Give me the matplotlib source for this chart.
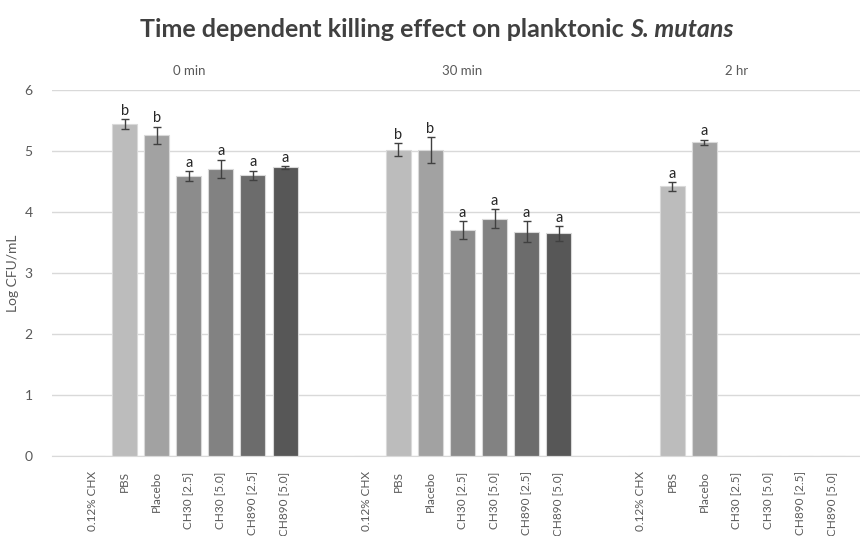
import numpy as np
import matplotlib.pyplot as plt

plt.rcParams['font.family'] = ['Lato', 'DejaVu Sans']

# data
treatments = ['0.12% CHX', 'PBS', 'Placebo', 'CH30 [2.5]', 'CH30 [5.0]',
              'CH890 [2.5]', 'CH890 [5.0]']
times = ['0 min', '30 min', '2 hr']

vals_0min = [np.nan, 5.44, 5.26, 4.59, 4.71, 4.60, 4.73]
err_0min = [np.nan, 0.08, 0.14, 0.08, 0.15, 0.08, 0.025]
sig_0min = ['', 'b', 'b', 'a', 'a', 'a', 'a']

vals_30min = [np.nan, 5.02, 5.02, 3.70, 3.89, 3.68, 3.65]
err_30min = [np.nan, 0.11, 0.21, 0.15, 0.16, 0.17, 0.125]
sig_30min = ['', 'b', 'b', 'a', 'a', 'a', 'a']

vals_2hr = [np.nan, 4.42, 5.14, np.nan, np.nan, np.nan, np.nan]
err_2hr = [np.nan, 0.07, 0.045, np.nan, np.nan, np.nan, np.nan]
sig_2hr = ['', 'a', 'a', '', '', '', '']

colors = ['#c8c8c8', '#bcbcbc', '#a2a2a2', '#8c8c8c', '#828282', '#6c6c6c', '#575757']

values = [vals_0min, vals_30min, vals_2hr]
errors = [err_0min, err_30min, err_2hr]
letters = [sig_0min, sig_30min, sig_2hr]

txt = '#595959'
stride = 8.54

fig = plt.figure(figsize=(8.6, 5.36), dpi=100)
ax = fig.add_axes([52 / 860, 80 / 536, 808 / 860, 366 / 536])

ticks, labels = [], []
for g, t in enumerate(times):
    x = g * stride + np.arange(len(treatments))
    v = np.array(values[g], dtype=float)
    e = np.array(errors[g], dtype=float)
    ax.bar(x, np.nan_to_num(v), width=0.78, color=colors,
           edgecolor='#d9d9d9', linewidth=0.8, zorder=2)
    ax.errorbar(x, v, yerr=e, fmt='none', ecolor='#404040',
                elinewidth=1, capsize=3, capthick=1, zorder=3)
    for xi, vi, ei, s in zip(x, v, e, letters[g]):
        if s:
            ax.text(xi, vi + ei + 0.02, s, ha='center', va='bottom',
                    fontsize=10.5, color='#262626')
    ax.text(x.mean(), 6.22, t, ha='center', va='bottom', fontsize=9.5, color=txt)
    ticks.extend(x)
    labels.extend(treatments)

ax.set_xlim(-1.27, 2 * stride + 6 + 0.86)
ax.set_ylim(0, 6)
ax.set_yticks(range(7))
ax.set_xticks(ticks)
ax.set_xticklabels(labels, rotation=90, fontsize=8.5, color=txt)
ax.tick_params(axis='y', labelsize=10, labelcolor=txt, length=0, pad=14)
ax.tick_params(axis='x', length=0, pad=11)
ax.yaxis.grid(True, color='#d9d9d9', linewidth=1, zorder=0)
ax.set_axisbelow(True)
for s in ['top', 'right', 'left']:
    ax.spines[s].set_visible(False)
ax.spines['bottom'].set_color('#d9d9d9')
ax.set_ylabel('Log CFU/mL', fontsize=10, color=txt, labelpad=4)

t1 = fig.text(140 / 860, 0.945, 'Time dependent killing effect on planktonic ',
              ha='left', va='center', fontsize=18, fontweight='bold', color='#404040')
ax.annotate('S. mutans', xy=(1, 0.5), xycoords=t1, ha='left', va='center',
            fontsize=18, fontweight='bold', fontstyle='italic', color='#404040',
            annotation_clip=False)

fig.savefig('out.png', dpi=100)
